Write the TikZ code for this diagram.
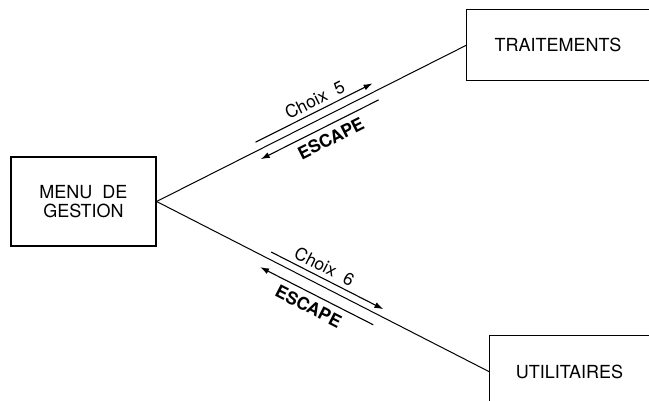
\documentclass[tikz,border=0pt]{standalone}
\usepackage{fontspec}
\setmainfont{TeX Gyre Heros}
\usetikzlibrary{arrows.meta,calc}

\begin{document}
\begin{tikzpicture}[x=1pt,y=1pt,
  txt/.style={font=\fontsize{18}{19.5}\selectfont, inner sep=0pt, align=center},
  boxline/.style={line width=1.2pt},
  link/.style={line width=1pt},
  flow/.style={line width=1.1pt, -{Latex[length=9pt,width=6pt]}},
  flowlabel/.style={font=\fontsize{17.5}{19}\selectfont, inner sep=0pt},
]
\useasboundingbox (0,0) rectangle (649,401);
\fill[white] (0,0) rectangle (649,401);

% boxes
\node[txt, draw, boxline, minimum width=145pt, minimum height=89pt] (menu) at (83.5,199.5) {MENU\ \ DE\\GESTION};
\node[txt, minimum width=182pt, minimum height=70pt] (trait) at (558,356) {TRAITEMENTS};
\draw[boxline] (trait.north east) -- (trait.north west) -- (trait.south west) -- (trait.south east);
\node[txt, minimum width=159pt, minimum height=72pt] (util) at (569.5,29) {UTILITAIRES};
\draw[boxline] (util.north east) -- (util.north west) -- (util.south west);

% connectors
\draw[link] (menu.east) -- (trait.west);
\draw[link] (menu.east) -- (util.west);

% menu <-> traitements
\begin{scope}[shift={(menu.east)}, rotate=26.7]
  \coordinate (c5s) at (115,8.5);
  \coordinate (c5e) at (246,8.5);
  \coordinate (e5s) at (244,-9);
  \coordinate (e5e) at (112,-9);
  \draw[flow] (c5s) -- (c5e);
  \draw[flow] (e5s) -- (e5e);
  \node[flowlabel, rotate=26.7] (l5) at (187,20) {Choix\ \ 5};
  \node[flowlabel, rotate=26.7, font=\fontsize{17.5}{19}\selectfont\bfseries] (le5) at (184,-22) {ESCAPE};
\end{scope}

% menu <-> utilitaires
\begin{scope}[shift={(menu.east)}, rotate=-27.0]
  \coordinate (c6s) at (125,7);
  \coordinate (c6e) at (251,7);
  \coordinate (e6s) at (249,-11.5);
  \coordinate (e6e) at (122,-11.5);
  \draw[flow] (c6s) -- (c6e);
  \draw[flow] (e6s) -- (e6e);
  \node[flowlabel, rotate=-27.0] (l6) at (179,18.5) {Choix\ \ 6};
  \node[flowlabel, rotate=-27.0, font=\fontsize{17.5}{19}\selectfont\bfseries] (le6) at (183,-24.5) {ESCAPE};
\end{scope}
\end{tikzpicture}
\end{document}
